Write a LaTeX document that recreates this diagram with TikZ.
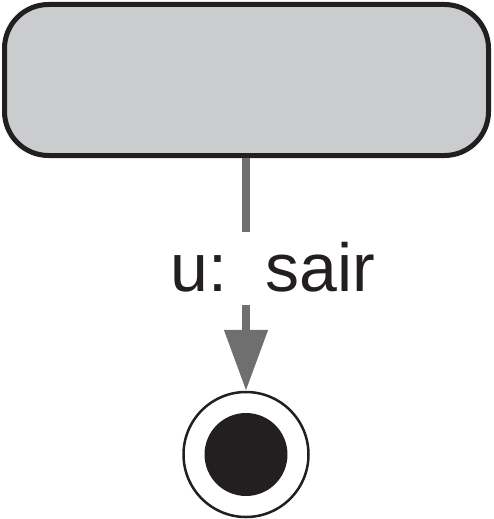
\documentclass[tikz,border=0pt]{standalone}
\usepackage{fontspec}
\setmainfont{Liberation Sans}
\usetikzlibrary{arrows.meta}
\definecolor{boxgray}{HTML}{CBCCCE}
\definecolor{edgegray}{HTML}{6F6F6F}
\definecolor{inkdark}{HTML}{231F20}

\begin{document}
\begin{tikzpicture}[x=1pt, y=-1pt]
\useasboundingbox (0,0) rectangle (493,519);
\node[rectangle, rounded corners=44pt, draw=inkdark, line width=5pt, fill=boxgray,
    minimum width = 484pt, minimum height = 151pt] (state) at (246.5,80) {};
\node[draw=inkdark, circle, line width=2.5pt, fill=white, minimum size = 125pt] (final) at (246,454.5) {};
\fill[inkdark] (final.center) circle (41.5pt);
\node[anchor=base, inner sep=0pt, font=\fontsize{68}{78}\selectfont, text=inkdark] (lbl) at (273,291.5) {u:\ \ sair};
\coordinate (a) at (246,232);
\coordinate (b) at (246,305);
\draw[edgegray, line width=8pt] (state.south -| a) -- (a);
\draw[edgegray, line width=8pt, -{Triangle[width=42pt, length=61pt]}] (b) -- (final.north);
\end{tikzpicture}
\end{document}
